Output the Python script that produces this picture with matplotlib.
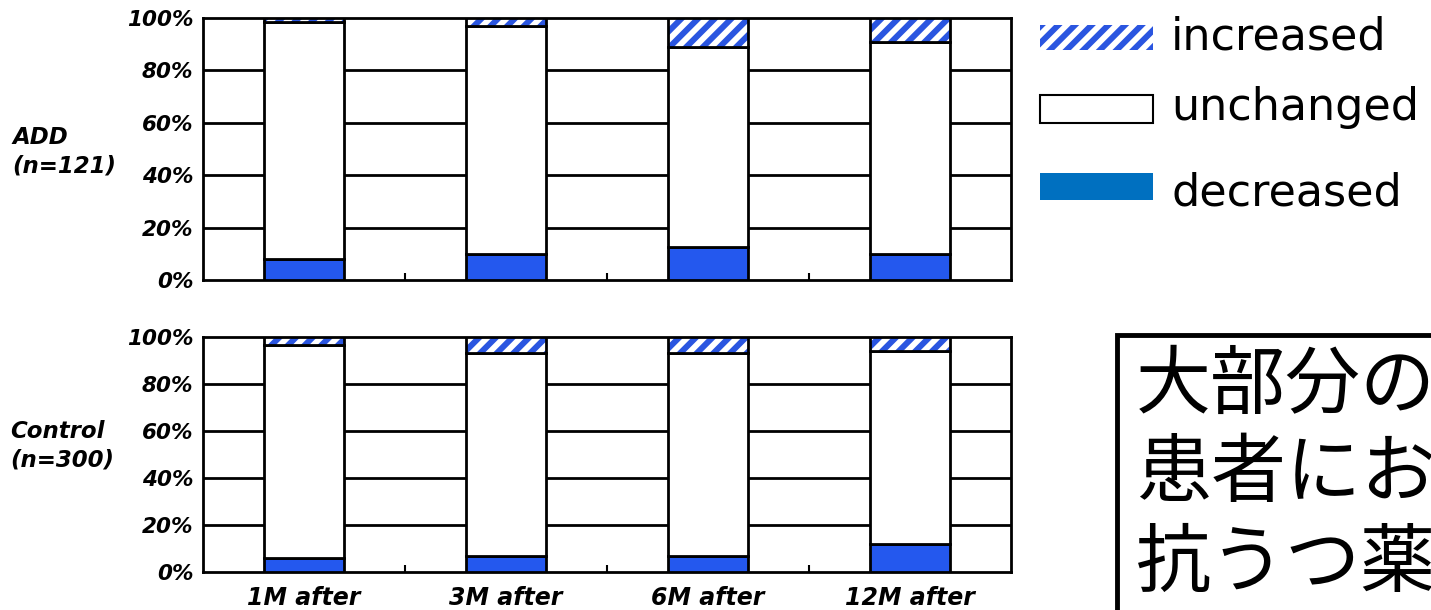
import matplotlib
matplotlib.use("Agg")
import matplotlib.pyplot as plt
from matplotlib.patches import Rectangle
import numpy as np

plt.rcParams['font.family'] = ['DejaVu Sans']
plt.rcParams['hatch.linewidth'] = 4.3

periods = ["1M after", "3M after", "6M after", "12M after"]
groups = ["ADD\n(n=121)", "Control\n(n=300)"]
# percentages
add_decreased = [8, 10, 12.5, 10]
add_unchanged = [90.5, 87, 76.5, 81]
add_increased = [1.5, 3, 11, 9]
ctl_decreased = [6, 7, 7, 12]
ctl_unchanged = [90.5, 86, 86, 82]
ctl_increased = [3.5, 7, 7, 6]
yticks = [0, 20, 40, 60, 80, 100]
ytick_labels = ["0%", "20%", "40%", "60%", "80%", "100%"]
legend_labels = ["increased", "unchanged", "decreased"]
note_text = "大部分の\n患者にお\n抗うつ薬"

BAR_BLUE = "#2458ee"
HATCH_BLUE = "#2a55e0"
LEG_BLUE = "#0070c0"

W, H = 1431, 610
fig = plt.figure(figsize=(W / 100, H / 100), dpi=100)

def fx(px):
    return px / W

def fy(py):
    return 1 - py / H

ax_top = fig.add_axes([fx(203), fy(280), fx(1011 - 203), (280 - 18) / H])
ax_bot = fig.add_axes([fx(203), fy(572), fx(1011 - 203), (572 - 337) / H])

x = np.arange(len(periods))
bw = 0.4
lab_font = dict(fontweight="bold", style="italic", family="DejaVu Sans")

def draw(ax, dec, unc, inc, show_xlabels):
    dec = np.array(dec); unc = np.array(unc); inc = np.array(inc)
    for yv in [20, 40, 60, 80]:
        ax.axhline(yv, color="black", lw=2, zorder=1)
    ax.bar(x, dec, bw, color=BAR_BLUE, edgecolor="black", lw=2, zorder=3)
    ax.bar(x, unc, bw, bottom=dec, color="white", edgecolor="black", lw=2, zorder=3)
    ax.bar(x, inc, bw, bottom=dec + unc, color="white", edgecolor=HATCH_BLUE,
           hatch="//", lw=0, zorder=3)
    ax.bar(x, inc, bw, bottom=dec + unc, fill=False, edgecolor="black", lw=2, zorder=4)
    ax.set_xlim(-0.5, 3.5)
    ax.set_ylim(0, 100)
    ax.set_yticks(yticks)
    ax.set_yticklabels(ytick_labels, fontsize=15.5, **lab_font)
    ax.tick_params(axis="y", length=0, pad=7)
    ax.set_xticks(x)
    if show_xlabels:
        ax.set_xticklabels(periods, fontsize=17, **lab_font)
    else:
        ax.set_xticklabels([])
    ax.tick_params(axis="x", length=0, pad=10)
    ax.set_xticks([0.5, 1.5, 2.5], minor=True)
    ax.tick_params(axis="x", which="minor", direction="in", length=5, width=1.5)
    for s in ax.spines.values():
        s.set_linewidth(2)

draw(ax_top, add_decreased, add_unchanged, add_increased, False)
draw(ax_bot, ctl_decreased, ctl_unchanged, ctl_increased, True)

fig.text(fx(12), fy(152), groups[0], fontsize=16.5, ha="left", va="center",
         linespacing=1.3, **lab_font)
fig.text(fx(10), fy(446), groups[1], fontsize=16.5, ha="left", va="center",
         linespacing=1.3, **lab_font)

# legend
r1 = Rectangle((fx(1040), fy(50)), fx(113), 25 / H, transform=fig.transFigure,
               facecolor="white", edgecolor=HATCH_BLUE, hatch="//", lw=0)
fig.add_artist(r1)
r2 = Rectangle((fx(1040), fy(123)), fx(113), 28 / H, transform=fig.transFigure,
               facecolor="white", edgecolor="black", lw=1.5)
fig.add_artist(r2)
r3 = Rectangle((fx(1040), fy(200)), fx(113), 27 / H, transform=fig.transFigure,
               facecolor=LEG_BLUE, edgecolor="none", lw=0)
fig.add_artist(r3)
for lab, yb in zip(legend_labels, [49, 120, 206]):
    fig.text(fx(1171), fy(yb), lab, fontsize=32, family="DejaVu Sans",
             ha="left", va="baseline")

# note box (clipped at the figure edge)
box = Rectangle((fx(1117), fy(700)), fx(400), (700 - 335) / H, transform=fig.transFigure,
                facecolor="white", edgecolor="black", lw=3.5, clip_on=False)
fig.add_artist(box)
fig.text(fx(1136), fy(475), note_text, fontsize=54,
         family=['Noto Sans CJK JP', 'DejaVu Sans'],
         ha="left", va="center", linespacing=1.2)

fig.savefig("out.png", dpi=100)
